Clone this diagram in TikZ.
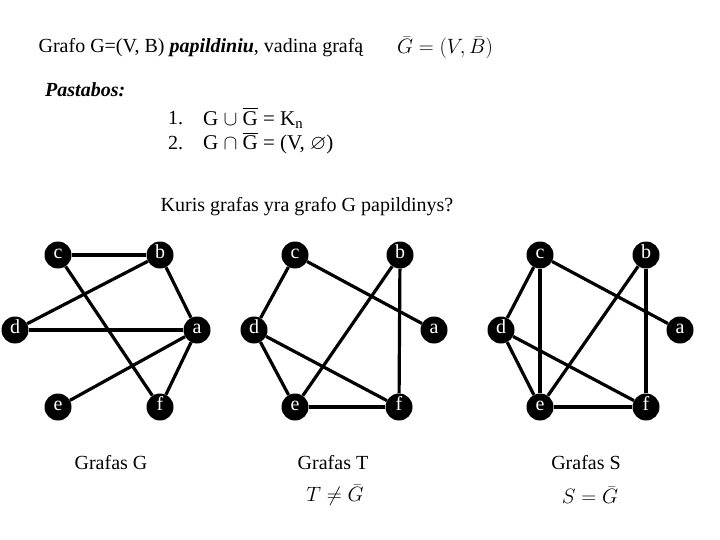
\documentclass[tikz,border=0pt]{standalone}
\usepackage{amssymb}
\usepackage{fontspec}
\setmainfont{Liberation Serif}
\newcommand{\cbar}[1]{\overline{#1}}

\begin{document}
\begin{tikzpicture}[x=1pt,y=-1pt,
vtx/.style={circle,fill=black,text=white,minimum size=27pt,inner sep=0pt,text height=1.4ex,text depth=0pt,font=\fontsize{20}{22}\selectfont},
edge/.style={line width=3.2pt},
txt/.style={font=\fontsize{20}{24}\selectfont,inner sep=0pt},
lbl/.style={txt},
mth/.style={font=\fontsize{19.5}{22}\selectfont,inner sep=0pt}]

\useasboundingbox (0,0) rectangle (720,540);

% heading and notes
\node[txt] (def) at (201,48) {Grafo G=(V, B) \textbf{\textit{papildiniu}}, vadina grafą};
\node[mth] (defm) at (445,48) {$\bar{G}=(V,\bar{B})$};
\node[txt,anchor=west] (pst) at (45,90) {\textbf{\textit{Pastabos:}}};
\node[txt,anchor=west] (n1) at (168,118) {1.};
\node[txt,anchor=west,font=\fontsize{21}{24}\selectfont] (e1) at (203,118) {G $\cup$ $\cbar{\mathrm{G}}$ = K$_{\mathrm{n}}$};
\node[txt,anchor=west] (n2) at (168,143) {2.};
\node[txt,anchor=west,font=\fontsize{21}{24}\selectfont] (e2) at (203,143) {G $\cap$ $\cbar{\mathrm{G}}$ = (V, $\varnothing$)};
\node[txt] (q) at (307,207) {Kuris grafas yra grafo G papildinys?};

% graph G
\node[vtx] (gc) at (58,255) {c};
\node[vtx] (gb) at (160,255) {b};
\node[vtx] (gd) at (15,330) {d};
\node[vtx] (ga) at (197,330) {a};
\node[vtx] (ge) at (58,407) {e};
\node[vtx] (gf) at (160,407) {f};
\draw[edge] (gc) -- (gb);
\draw[edge] (gc) -- (gf);
\draw[edge] (gb) -- (gd);
\draw[edge] (gb) -- (ga);
\draw[edge] (gd) -- (ga);
\draw[edge] (ga) -- (ge);
\draw[edge] (ga) -- (gf);

% graph T
\node[vtx] (tc) at (295,255) {c};
\node[vtx] (tb) at (400,255) {b};
\node[vtx] (td) at (254,330) {d};
\node[vtx] (ta) at (434,330) {a};
\node[vtx] (te) at (295,407) {e};
\node[vtx] (tf) at (399,407) {f};
\draw[edge] (tc) -- (ta);
\draw[edge] (tc) -- (td);
\draw[edge] (tb) -- (te);
\draw[edge] (tb) -- (tf);
\draw[edge] (td) -- (te);
\draw[edge] (td) -- (tf);
\draw[edge] (te) -- (tf);

% graph S
\node[vtx] (sc) at (540,255) {c};
\node[vtx] (sb) at (646,255) {b};
\node[vtx] (sd) at (501,330) {d};
\node[vtx] (sa) at (680,330) {a};
\node[vtx] (se) at (540,407) {e};
\node[vtx] (sf) at (646,407) {f};
\draw[edge] (sc) -- (sa);
\draw[edge] (sc) -- (sd);
\draw[edge] (sc) -- (se);
\draw[edge] (sb) -- (se);
\draw[edge] (sb) -- (sf);
\draw[edge] (sd) -- (se);
\draw[edge] (sd) -- (sf);
\draw[edge] (se) -- (sf);

% captions
\node[lbl] (capg) at (111,463) {Grafas G};
\node[lbl] (capt) at (333,463) {Grafas T};
\node[lbl] (caps) at (586,463) {Grafas S};
\node[mth] (mt) at (335,495) {$T\neq\bar{G}$};
\node[mth] (ms) at (590,495) {$S=\bar{G}$};

\end{tikzpicture}
\end{document}
